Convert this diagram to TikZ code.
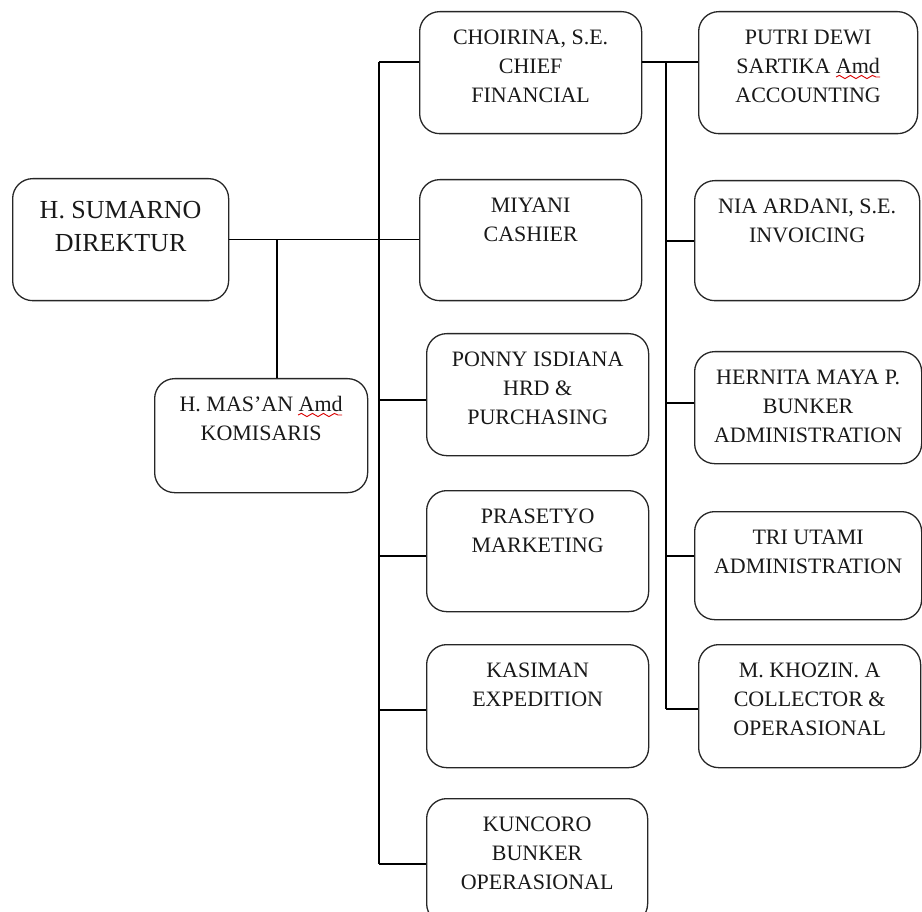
\documentclass[tikz,border=0pt]{standalone}
\usepackage{fontspec}
\setmainfont{Liberation Serif}
\usetikzlibrary{decorations.pathmorphing}
\newcommand\bt[3]{\parbox[c][#2pt][t]{#1pt}{\centering\fontsize{22}{29}\selectfont\rule{0pt}{33pt}#3}}
\newcommand\btbig[3]{\parbox[c][#2pt][t]{#1pt}{\centering\fontsize{26}{33}\selectfont\rule{0pt}{40pt}#3}}
\begin{document}
\begin{tikzpicture}[x=1pt,y=-1pt,
  box/.style={draw=black!85, line width=1.3pt, rounded corners=20pt, inner sep=0pt, anchor=north west, text=black!90},
  link/.style={draw=black, line width=1.2pt},
  wavy/.style={draw=red!85!black, line width=0.9pt, decorate, decoration={snake, amplitude=1.6pt, segment length=11pt}}]
\useasboundingbox (0,0) rectangle (922,912);
% left column
\node[box] (sumarno) at (12,178) {\btbig{216}{122}{H. SUMARNO\\DIREKTUR}};
\node[box] (komisaris) at (154,378) {\bt{213}{114}{H. MAS’AN Amd\\KOMISARIS}};
% middle column
\node[box] (choirina) at (419,11) {\bt{222}{122}{CHOIRINA, S.E.\\CHIEF\\FINANCIAL}};
\node[box] (miyani) at (419,179) {\bt{222}{121}{MIYANI\\CASHIER}};
\node[box] (ponny) at (426,333) {\bt{222}{122}{PONNY ISDIANA\\HRD \&\\PURCHASING}};
\node[box] (prasetyo) at (426,490) {\bt{222}{121}{PRASETYO\\MARKETING}};
\node[box] (kasiman) at (426,644) {\bt{222}{123}{KASIMAN\\EXPEDITION}};
\node[box] (kuncoro) at (426,798) {\bt{221}{125}{KUNCORO\\BUNKER\\OPERASIONAL}};
% right column
\node[box] (putri) at (698,11) {\bt{219}{122}{PUTRI DEWI\\SARTIKA Amd\\ACCOUNTING}};
\node[box] (nia) at (694,180) {\bt{225}{120}{NIA ARDANI, S.E.\\INVOICING}};
\node[box] (hernita) at (694,351) {\bt{227}{112}{HERNITA MAYA P.\\BUNKER\\ADMINISTRATION}};
\node[box] (tri) at (694,511) {\bt{227}{108}{TRI UTAMI\\ADMINISTRATION}};
\node[box] (khozin) at (698,644) {\bt{222}{123}{M. KHOZIN. A\\COLLECTOR \&\\OPERASIONAL}};
% connectors from director
\coordinate (jK) at (277,0);
\draw[link] (sumarno.east) -- (sumarno.east -| miyani.west);
\draw[link] (sumarno.east -| jK) -- (jK |- komisaris.north);
% left bus
\coordinate (l1) at (379,62);
\coordinate (l3) at (379,400);
\coordinate (l4) at (379,556);
\coordinate (l5) at (379,710);
\coordinate (l6) at (379,864);
\draw[link] (l1) -- (l6);
\draw[link] (l1) -- (l1 -| choirina.west);
\draw[link] (l3) -- (l3 -| ponny.west);
\draw[link] (l4) -- (l4 -| prasetyo.west);
\draw[link] (l5) -- (l5 -| kasiman.west);
\draw[link] (l6) -- (l6 -| kuncoro.west);
% right bus
\coordinate (r1) at (666,62);
\coordinate (r2) at (666,241);
\coordinate (r3) at (666,403);
\coordinate (r4) at (666,556);
\coordinate (r5) at (666,709);
\draw[link] (r1 -| choirina.east) -- (r1 -| putri.west);
\draw[link] (r1) -- (r5);
\draw[link] (r2) -- (r2 -| nia.west);
\draw[link] (r3) -- (r3 -| hernita.west);
\draw[link] (r4) -- (r4 -| tri.west);
\draw[link] (r5) -- (r5 -| khozin.west);
% spell-check underlines
\draw[wavy] (298,415) -- (342,415);
\draw[wavy] (836,77) -- (880,77);
\end{tikzpicture}
\end{document}
